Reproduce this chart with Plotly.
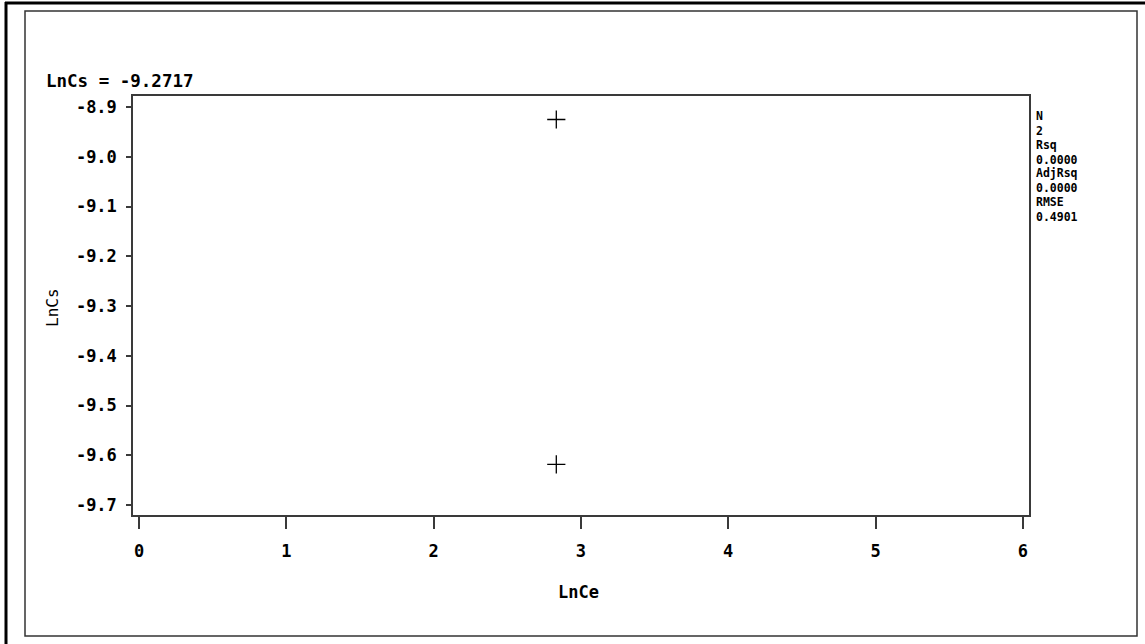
import plotly.graph_objects as go

# Observations: LnCe vs LnCs
ln_ce = [2.833, 2.833]
ln_cs = [-8.9251, -9.6183]

# Fit statistics shown on the right margin
stat_labels = ["N", "Rsq", "AdjRsq", "RMSE"]
stat_values = ["2", "0.0000", "0.0000", "0.4901"]
fit_title = "LnCs = -9.2717"

x_ticks = [0, 1, 2, 3, 4, 5, 6]
y_ticks = [-8.9, -9.0, -9.1, -9.2, -9.3, -9.4, -9.5, -9.6, -9.7]

W, H = 1145, 644
ML, MR, MT, MB = 133, 116, 96, 129
PW, PH = W - ML - MR, H - MT - MB


def px_x(p):
    return (p - ML) / PW


def px_y(p):
    return (H - MB - p) / PH


MONO = "DejaVu Sans Mono"

fig = go.Figure()
fig.add_trace(go.Scatter(
    x=ln_ce, y=ln_cs, mode="markers",
    marker=dict(symbol="cross-thin", size=13, color="black",
                line=dict(color="black", width=1.3)),
    hoverinfo="x+y", showlegend=False,
))

axis_common = dict(
    showgrid=False, zeroline=False, showline=True, mirror=True,
    linecolor="#3a3a3a", linewidth=1.5, ticks="outside",
    tickcolor="#3a3a3a", tickwidth=1.5,
    tickfont=dict(family=MONO, size=17, color="black"),
)

fig.update_layout(
    width=W, height=H,
    margin=dict(l=ML, r=MR, t=MT, b=MB),
    paper_bgcolor="white", plot_bgcolor="white",
    xaxis=dict(axis_common, range=[-0.0407, 6.042], tickvals=x_ticks,
               ticktext=[f"<b>{v}</b>" for v in x_ticks], ticklen=12,
               ticklabelstandoff=8),
    yaxis=dict(axis_common, range=[-9.7201, -8.8779], tickvals=y_ticks,
               ticktext=[f"<b>{v:.1f}</b>" for v in y_ticks], ticklen=5,
               ticklabelstandoff=6),
)


def note(text, x, y, size, **kw):
    fig.add_annotation(
        text=text, xref="paper", yref="paper", x=px_x(x), y=px_y(y),
        showarrow=False, font=dict(family=MONO, size=size, color="black"),
        **kw)


note(f"<b>{fit_title}</b>", 44, 81, 17.5, xanchor="left", yanchor="middle")
note("<b>LnCe</b>", 578, 592, 17, xanchor="center", yanchor="middle")
note("LnCs", 52, 308, 16, xanchor="center", yanchor="middle", textangle=-90)

# Stacked label/value pairs beside the plot frame
for i, (lab, val) in enumerate(zip(stat_labels, stat_values)):
    center = 123.5 + 28.5 * i
    note(f"<b>{lab}</b><br><b>{val}</b>", 1035, center, 11.5,
         xanchor="left", yanchor="middle", align="left", borderpad=0)

# Page frames: thin inner box and heavy outer rule along the top and left
fig.add_shape(type="rect", xref="paper", yref="paper",
              x0=px_x(25), x1=px_x(1137), y0=px_y(636), y1=px_y(11),
              line=dict(color="#333333", width=1.5), layer="below")
fig.add_shape(type="line", xref="paper", yref="paper",
              x0=px_x(5), x1=px_x(1145), y0=px_y(3), y1=px_y(3),
              line=dict(color="black", width=3))
fig.add_shape(type="line", xref="paper", yref="paper",
              x0=px_x(6), x1=px_x(6), y0=px_y(2), y1=px_y(644),
              line=dict(color="black", width=3))

fig.write_html("out.html")
